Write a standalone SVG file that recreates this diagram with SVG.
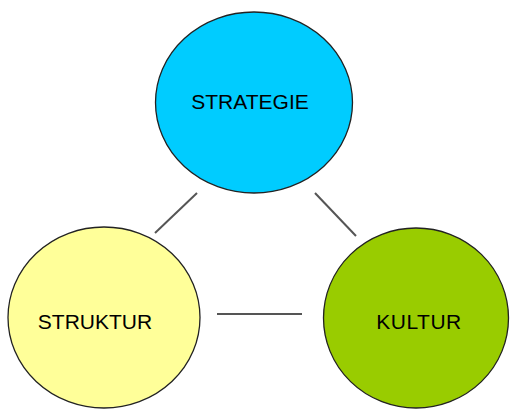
<svg xmlns="http://www.w3.org/2000/svg" width="510" height="409" viewBox="0 0 510 409">
<style>
.node{stroke:#222;stroke-width:1.3}
.lbl{font-family:"Liberation Sans",Arial,sans-serif;font-size:21px;fill:#000;text-anchor:middle}
.con{stroke:#555;stroke-width:2;fill:none}
</style>
<rect width="510" height="409" fill="#fff"/>
<g id="connectors">
<line class="con" x1="155" y1="233" x2="197" y2="193"/>
<line class="con" x1="315" y1="193" x2="356" y2="236"/>
<line class="con" x1="217" y1="314" x2="302" y2="314" stroke="#222"/>
</g>
<g id="strategie">
<ellipse class="node" cx="254" cy="102.5" rx="98.5" ry="90.5" fill="#00CCFF"/>
<text class="lbl" x="250" y="109">STRATEGIE</text>
</g>
<g id="struktur">
<ellipse class="node" cx="104" cy="317.5" rx="96" ry="90.5" fill="#FFFF99"/>
<text class="lbl" x="95" y="329">STRUKTUR</text>
</g>
<g id="kultur">
<ellipse class="node" cx="416" cy="318" rx="92.5" ry="90" fill="#99CC00"/>
<text class="lbl" x="419" y="329" letter-spacing="0.5">KULTUR</text>
</g>
</svg>
